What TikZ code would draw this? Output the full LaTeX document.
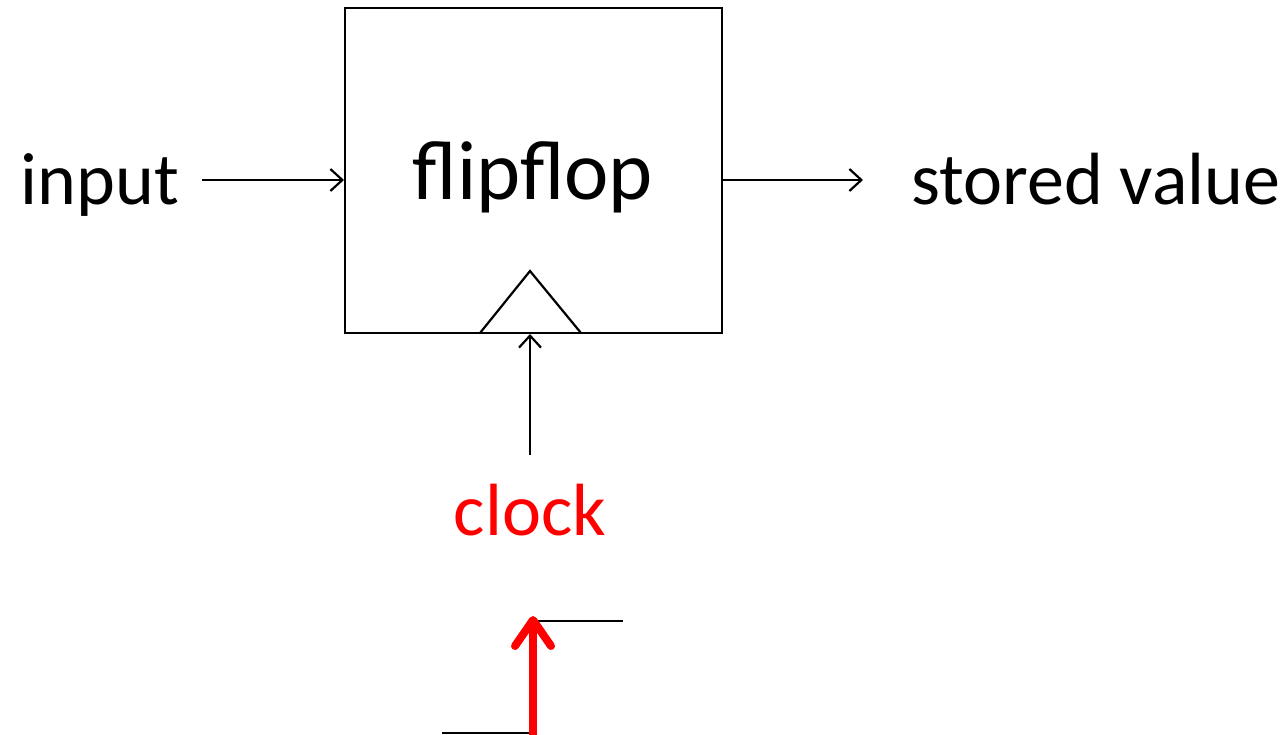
\documentclass[tikz,border=0pt]{standalone}
\usepackage{fontspec}
\setmainfont{Carlito}
\usetikzlibrary{arrows.meta}
\begin{document}
\begin{tikzpicture}[x=1pt,y=-1pt,
  lbl/.style={inner sep=0pt,anchor=base,font=\fontsize{74}{80}\selectfont},
  wire/.style={line width=2.2pt,-{Straight Barb[length=12pt,width=22pt,line width=2.2pt]}},
  level/.style={line width=2.2pt}]
\useasboundingbox (0,0) rectangle (1288,735);
% flipflop block
\node[draw,line width=1.3pt,minimum width=377pt,minimum height=325pt,inner sep=0pt] (ff) at (533.5,170.5) {};
\node[lbl,font=\fontsize{84}{90}\selectfont] (name) at (533,200) {flipflop};
% clock edge marker
\coordinate (tl) at (480,333);
\coordinate (tr) at (581,333);
\coordinate (ta) at (530,271);
\draw[line width=2.2pt] (tl) -- (ta) -- (tr);
% signal labels
\node[lbl] (in) at (100,205) {input};
\node[lbl] (out) at (1096,205) {stored value};
\node[lbl,text=red] (clk) at (530,535) {clock};
\coordinate (inS) at (202,180);
\coordinate (inE) at (344,180);
\coordinate (outS) at (723,180);
\coordinate (outE) at (863,180);
\coordinate (ckS) at (530,455);
\coordinate (ckE) at (530,334);
\draw[wire] (inS) -- (inE);
\draw[wire] (outS) -- (outE);
\draw[wire] (ckS) -- (ckE);
% rising edge
\coordinate (lo0) at (442,733);
\coordinate (lo1) at (532,733);
\coordinate (hi0) at (534,621);
\coordinate (hi1) at (623,621);
\draw[level] (lo0) -- (lo1);
\draw[level] (hi0) -- (hi1);
\coordinate (edgeS) at (533,736);
\coordinate (edgeE) at (533,616);
\draw[red,line width=8pt,-{Straight Barb[length=26pt,width=36pt,line width=8pt,round]}] (edgeS) -- (edgeE);
\end{tikzpicture}
\end{document}
